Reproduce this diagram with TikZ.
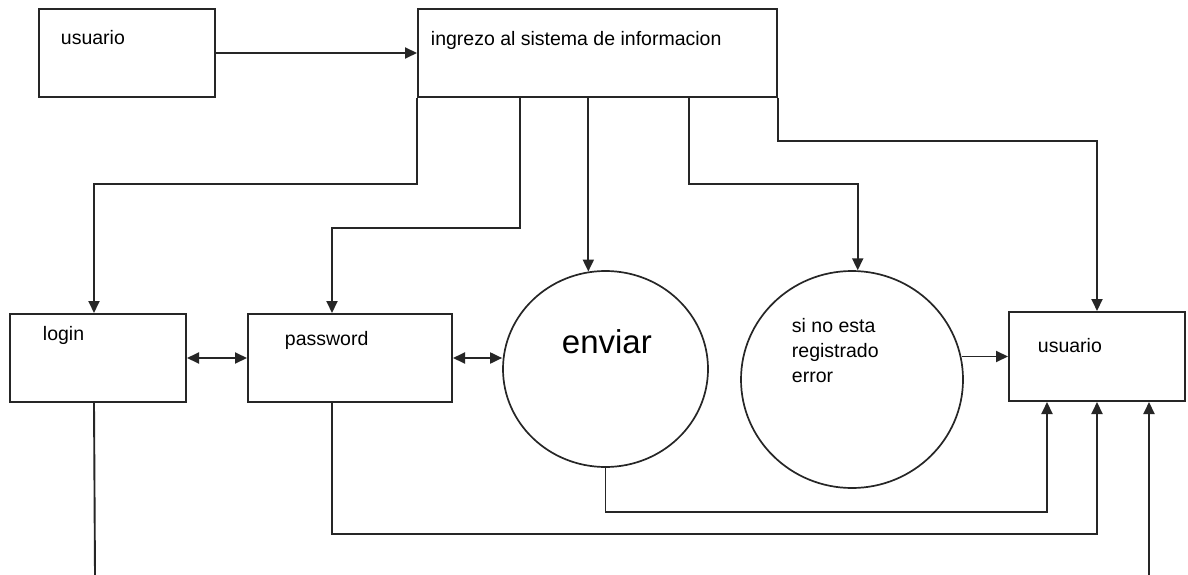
\documentclass[tikz,border=0pt]{standalone}
\usepackage{fontspec}
\setmainfont{Liberation Sans}
\usetikzlibrary{arrows.meta,shapes.geometric,calc}
\begin{document}
\begin{tikzpicture}[x=1pt,y=-1pt,
  line width=1.9pt,
  box/.style={draw=black!85,line width=2pt,rectangle,inner sep=0pt},
  oval/.style={draw=black!85,line width=1.7pt,ellipse,inner sep=0pt},
  lbl/.style={anchor=base west,inner sep=0pt,font=\fontsize{19.5}{25}\selectfont},
  arr/.style={draw=black!85,-{Triangle[length=12pt,width=11pt]}},
  darr/.style={draw=black!85,{Triangle[length=12pt,width=11pt]}-{Triangle[length=12pt,width=11pt]}},
  ln/.style={draw=black!85}]
\useasboundingbox (0,0) rectangle (1188,575);
\fill[white] (0,0) rectangle (1188,575);
% boxes
\node[box,minimum width=176pt,minimum height=88pt] (u1) at (127,53) {};
\node[box,minimum width=359pt,minimum height=88pt] (ing) at (597.5,53) {};
\node[box,minimum width=176pt,minimum height=88pt] (login) at (98,358) {};
\node[box,minimum width=204pt,minimum height=88pt] (pass) at (350,358) {};
\node[oval,minimum width=205pt,minimum height=196pt] (env) at (605.5,369) {};
\node[oval,minimum width=222pt,minimum height=217pt] (err) at (852,379.5) {};
\node[box,minimum width=176pt,minimum height=89pt] (u2) at (1097,356.5) {};
% texts
\node[lbl] (t1) at (60,45) {usuario};
\node[lbl] (t2) at (430,46) {ingrezo al sistema de informacion};
\node[lbl] (t3) at (42,340) {login};
\node[lbl] (t4) at (284,345) {password};
\node[anchor=base west,inner sep=0pt,font=\fontsize{33}{40}\selectfont] (t5) at (561,353) {enviar};
\node[lbl] (t6a) at (791,332) {si no esta};
\node[lbl] (t6b) at (791,357) {registrado};
\node[lbl] (t6c) at (791,382) {error};
\node[lbl] (t7) at (1037,352) {usuario};
% connectors
\draw[arr] (u1.east) -- (ing.west);
\draw[arr] (ing.south west) -- ++(0,86) -| ([xshift=85pt]login.north west);
\draw[arr] ([xshift=103pt]ing.south west) -- ++(0,130) -| ([xshift=85pt]pass.north west);
\draw[arr] (env.100 |- ing.south) -- (env.100);
\draw[arr] ([xshift=272pt]ing.south west) -- ++(0,86) -| (err.87);
\draw[arr] (ing.south east) -- ++(0,43) -| (u2.north);
\draw[darr] (login.east) -- (pass.west);
\draw[darr] (pass.east) -- (pass.east -| env.west);
\draw[arr] ([xshift=-2pt]err.east |- u2.west) -- (u2.west);
\draw[arr] (env.south) -- ++(0,44) -| ([xshift=39pt]u2.south west);
\draw[arr] ([xshift=85pt]pass.south west) -- ++(0,131) -| (u2.south);
\coordinate (lend) at (95,575);
\coordinate (rend) at (1149,575);
\draw[ln] ([xshift=85pt]login.south west) -- (lend);
\draw[arr] (rend) -- (rend |- u2.south);
\end{tikzpicture}
\end{document}
